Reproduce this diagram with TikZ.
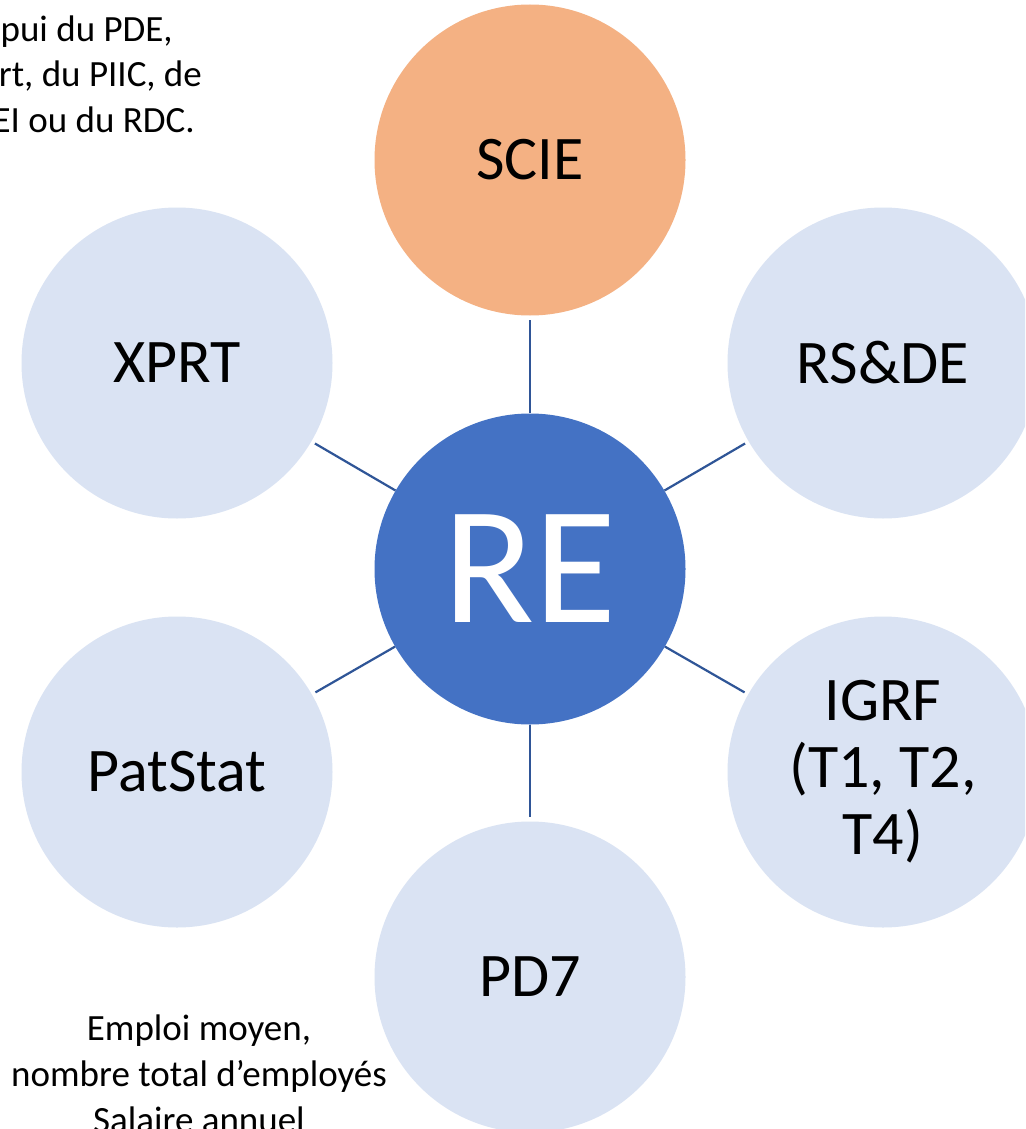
\documentclass[tikz,border=0pt]{standalone}
\usepackage{fontspec}
\setmainfont{Carlito}
\definecolor{reblue}{HTML}{4472C4}
\definecolor{lightc}{HTML}{DAE3F3}
\definecolor{orangec}{HTML}{F4B183}
\definecolor{linec}{HTML}{2F5597}
\begin{document}
\begin{tikzpicture}[x=1pt,y=-1pt,
  bubble/.style={circle,minimum size=311pt,inner sep=0pt,draw=none,fill=lightc,
     align=center,font=\fontsize{62}{67}\selectfont},
  conn/.style={draw=linec,line width=2.2pt,shorten >=4pt},
  note/.style={inner sep=0pt,font=\fontsize{37}{45}\selectfont}]
\useasboundingbox (0,0) rectangle (1025,1129);
\clip (0,0) rectangle (1025,1129);
\fill[white] (0,0) rectangle (1025,1129);
% outer circles
\node[bubble,fill=orangec] (scie) at (530,160) {SCIE};
\node[bubble] (xprt) at (177,363) {XPRT};
\node[bubble] (rsde) at (883,363) {RS\&DE};
\node[bubble] (pat) at (177,772) {PatStat};
\node[bubble] (igrf) at (883,772) {IGRF\\(T1, T2,\\T4)};
\node[bubble] (pd7) at (530,977) {PD7};
% centre
\node[bubble,fill=reblue,text=white,font=\fontsize{168}{170}\selectfont] (re) at (530,569) {RE};
% connectors
\draw[conn] (re) -- (scie);
\draw[conn] (re) -- (xprt);
\draw[conn] (re) -- (rsde);
\draw[conn] (re) -- (pat);
\draw[conn] (re) -- (igrf);
\draw[conn] (re) -- (pd7);
% notes
\node[note,anchor=base east] (t1) at (173,42) {pui du PDE,};
\node[note,anchor=base east] (t2) at (202,87) {rt, du PIIC, de};
\node[note,anchor=base east] (t3) at (195,132) {EI ou du RDC.};
\node[note,anchor=base] (b1) at (199,1040) {Emploi moyen,};
\node[note,anchor=base] (b2) at (199,1086) {nombre total d’employés};
\node[note,anchor=base] (b3) at (199,1132) {Salaire annuel};
\end{tikzpicture}
\end{document}
